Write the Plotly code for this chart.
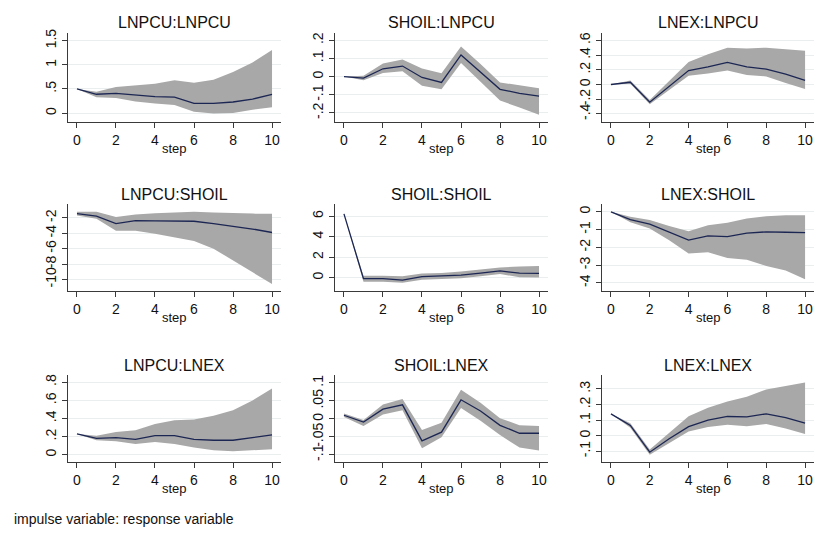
import plotly.graph_objects as go

steps = list(range(11))

panel_titles = ["LNPCU:LNPCU", "SHOIL:LNPCU", "LNEX:LNPCU",
                "LNPCU:SHOIL", "SHOIL:SHOIL", "LNEX:SHOIL",
                "LNPCU:LNEX", "SHOIL:LNEX", "LNEX:LNEX"]

# --- impulse responses (irf), lower and upper 95% bounds ---
lnpcu_lnpcu_irf = [0.50, 0.39, 0.41, 0.37, 0.34, 0.33, 0.20, 0.20, 0.23, 0.29, 0.39]
lnpcu_lnpcu_lo  = [0.50, 0.33, 0.31, 0.24, 0.20, 0.17, 0.03, -0.01, 0.00, 0.07, 0.12]
lnpcu_lnpcu_hi  = [0.50, 0.44, 0.54, 0.58, 0.61, 0.68, 0.63, 0.69, 0.85, 1.05, 1.31]

shoil_lnpcu_irf = [0.0, -0.008, 0.043, 0.058, -0.005, -0.032, 0.119, 0.025, -0.070, -0.092, -0.107]
shoil_lnpcu_lo  = [0.0, -0.020, 0.020, 0.030, -0.051, -0.070, 0.075, -0.030, -0.132, -0.170, -0.210]
shoil_lnpcu_hi  = [0.0, 0.005, 0.072, 0.094, 0.045, 0.019, 0.166, 0.070, -0.032, -0.050, -0.064]

lnex_lnpcu_irf = [0.0, 0.03, -0.24, -0.02, 0.19, 0.24, 0.30, 0.24, 0.21, 0.14, 0.055]
lnex_lnpcu_lo  = [0.0, 0.01, -0.27, -0.08, 0.12, 0.15, 0.19, 0.13, 0.11, 0.02, -0.06]
lnex_lnpcu_hi  = [0.0, 0.055, -0.21, 0.05, 0.305, 0.41, 0.50, 0.49, 0.50, 0.48, 0.46]

lnpcu_shoil_irf = [-1.45, -1.78, -2.74, -2.35, -2.38, -2.40, -2.44, -2.75, -3.10, -3.45, -3.90]
lnpcu_shoil_lo  = [-1.70, -2.10, -3.66, -3.66, -4.05, -4.55, -5.00, -6.00, -7.50, -9.00, -10.6]
lnpcu_shoil_hi  = [-1.20, -1.20, -1.90, -1.56, -1.40, -1.30, -1.20, -1.30, -1.40, -1.45, -1.48]

shoil_shoil_irf = [6.23, -0.10, -0.10, -0.23, 0.10, 0.15, 0.25, 0.45, 0.66, 0.45, 0.43]
shoil_shoil_lo  = [6.23, -0.40, -0.40, -0.50, -0.20, -0.10, -0.05, 0.15, 0.35, 0.05, 0.02]
shoil_shoil_hi  = [6.23, 0.20, 0.20, 0.15, 0.40, 0.45, 0.60, 0.80, 1.00, 1.10, 1.15]

lnex_shoil_irf = [0.0, -0.44, -0.70, -1.15, -1.59, -1.35, -1.40, -1.20, -1.13, -1.15, -1.17]
lnex_shoil_lo  = [0.0, -0.59, -0.94, -1.60, -2.35, -2.28, -2.60, -2.70, -3.05, -3.30, -3.80]
lnex_shoil_hi  = [0.0, -0.28, -0.46, -0.80, -1.09, -0.76, -0.61, -0.37, -0.25, -0.20, -0.20]

lnpcu_lnex_irf = [0.23, 0.18, 0.19, 0.17, 0.21, 0.21, 0.17, 0.16, 0.16, 0.19, 0.22]
lnpcu_lnex_lo  = [0.23, 0.16, 0.15, 0.12, 0.14, 0.12, 0.08, 0.05, 0.04, 0.05, 0.06]
lnpcu_lnex_hi  = [0.23, 0.21, 0.25, 0.27, 0.34, 0.38, 0.39, 0.43, 0.49, 0.60, 0.73]

shoil_lnex_irf = [0.010, -0.009, 0.027, 0.039, -0.061, -0.037, 0.053, 0.022, -0.018, -0.040, -0.040]
shoil_lnex_lo  = [0.005, -0.020, 0.012, 0.024, -0.082, -0.051, 0.030, -0.005, -0.045, -0.080, -0.088]
shoil_lnex_hi  = [0.015, -0.003, 0.040, 0.055, -0.031, -0.011, 0.081, 0.045, 0.002, -0.018, -0.020]

lnex_lnex_irf = [0.14, 0.065, -0.107, -0.02, 0.058, 0.10, 0.123, 0.12, 0.14, 0.115, 0.08]
lnex_lnex_lo  = [0.14, 0.050, -0.123, -0.05, 0.026, 0.055, 0.069, 0.06, 0.075, 0.045, 0.01]
lnex_lnex_hi  = [0.14, 0.080, -0.090, 0.02, 0.125, 0.18, 0.220, 0.25, 0.297, 0.32, 0.342]

# --- y tick values / labels per panel ---
yt1 = [0, 0.5, 1, 1.5];            yl1 = ["0", ".5", "1", "1.5"]
yt2 = [-0.2, -0.1, 0, 0.1, 0.2];   yl2 = ["-.2", "-.1", "0", ".1", ".2"]
yt3 = [-0.4, -0.2, 0, 0.2, 0.4, 0.6]; yl3 = ["-.4", "-.2", "0", ".2", ".4", ".6"]
yt4 = [-10, -8, -6, -4, -2];       yl4 = ["-10", "-8", "-6", "-4", "-2"]
yt5 = [0, 2, 4, 6];                yl5 = ["0", "2", "4", "6"]
yt6 = [-4, -3, -2, -1, 0];         yl6 = ["-4", "-3", "-2", "-1", "0"]
yt7 = [0, 0.2, 0.4, 0.6, 0.8];     yl7 = ["0", ".2", ".4", ".6", ".8"]
yt8 = [-0.1, -0.05, 0, 0.05, 0.1]; yl8 = ["-.1", "-.05", "0", ".05", ".1"]
yt9 = [-0.1, 0, 0.1, 0.2, 0.3];    yl9 = ["-.1", "0", ".1", ".2", ".3"]

xticks = [0, 2, 4, 6, 8, 10]

panels = [
    (lnpcu_lnpcu_irf, lnpcu_lnpcu_lo, lnpcu_lnpcu_hi, yt1, yl1, [-0.185, 1.66]),
    (shoil_lnpcu_irf, shoil_lnpcu_lo, shoil_lnpcu_hi, yt2, yl2, [-0.25, 0.24]),
    (lnex_lnpcu_irf, lnex_lnpcu_lo, lnex_lnpcu_hi, yt3, yl3, [-0.51, 0.70]),
    (lnpcu_shoil_irf, lnpcu_shoil_lo, lnpcu_shoil_hi, yt4, yl4, [-11.5, -0.2]),
    (shoil_shoil_irf, shoil_shoil_lo, shoil_shoil_hi, yt5, yl5, [-1.3, 7.2]),
    (lnex_shoil_irf, lnex_shoil_lo, lnex_shoil_hi, yt6, yl6, [-4.46, 0.44]),
    (lnpcu_lnex_irf, lnpcu_lnex_lo, lnpcu_lnex_hi, yt7, yl7, [-0.08, 0.88]),
    (shoil_lnex_irf, shoil_lnex_lo, shoil_lnex_hi, yt8, yl8, [-0.12, 0.122]),
    (lnex_lnex_irf, lnex_lnex_lo, lnex_lnex_hi, yt9, yl9, [-0.17, 0.39]),
]

W, H = 817, 533
col_px = [(68, 281), (335, 548), (602, 814)]
row_px = [(33, 122), (204, 291), (375, 462)]

FONT = "Liberation Sans, Arial, sans-serif"
BAND = "#a8a8a8"
LINE = "#1c2653"
AXC = "#3a3a3a"

fig = go.Figure()
annotations = []
layout_axes = {}

for i, (irf, lo, hi, yt, yl, yr) in enumerate(panels):
    r, c = divmod(i, 3)
    n = "" if i == 0 else str(i + 1)
    xa, ya = "x" + n, "y" + n
    x0, x1 = col_px[c]
    t0, t1 = row_px[r]

    fig.add_trace(go.Scatter(x=steps, y=hi, mode="lines", line=dict(width=0, color=BAND),
                             xaxis=xa, yaxis=ya, showlegend=False, hoverinfo="skip"))
    fig.add_trace(go.Scatter(x=steps, y=lo, mode="lines", line=dict(width=0, color=BAND),
                             fill="tonexty", fillcolor=BAND,
                             xaxis=xa, yaxis=ya, showlegend=False, hoverinfo="skip"))
    fig.add_trace(go.Scatter(x=steps, y=irf, mode="lines", line=dict(width=1.3, color=LINE),
                             xaxis=xa, yaxis=ya, showlegend=False))

    layout_axes["xaxis" + n] = dict(
        domain=[x0 / W, x1 / W], anchor=ya, range=[-0.46, 10.46], automargin=False,
        tickvals=xticks, ticktext=[str(v) for v in xticks],
        ticks="outside", ticklen=5, tickcolor=AXC, showline=True, linecolor=AXC,
        linewidth=1, showgrid=False, zeroline=False,
        tickfont=dict(family=FONT, size=14, color="#111111"),
    )
    layout_axes["yaxis" + n] = dict(
        domain=[1 - t1 / H, 1 - t0 / H], anchor=xa, range=yr, automargin=False,
        tickvals=yt, ticktext=yl, tickangle=-90,
        ticks="outside", ticklen=5, tickcolor=AXC, showline=True, linecolor=AXC,
        linewidth=1, showgrid=True, gridcolor="#eaeeef", gridwidth=1, zeroline=False,
        tickfont=dict(family=FONT, size=14, color="#111111"),
    )
    cx = (x0 + x1) / 2 / W
    annotations.append(dict(text=panel_titles[i], x=cx, y=1 - (t0 - 10) / H,
                            xref="paper", yref="paper", showarrow=False,
                            xanchor="center", yanchor="middle",
                            font=dict(family=FONT, size=16, color="#111111")))
    annotations.append(dict(text="step", x=cx, y=1 - (t1 + 26) / H,
                            xref="paper", yref="paper", showarrow=False,
                            xanchor="center", yanchor="middle",
                            font=dict(family=FONT, size=13, color="#111111")))

annotations.append(dict(text="impulse variable: response variable", x=12 / W, y=1 - 519 / H,
                        xref="paper", yref="paper", showarrow=False,
                        xanchor="left", yanchor="middle",
                        font=dict(family=FONT, size=14, color="#111111")))

fig.update_layout(width=W, height=H, margin=dict(l=0, r=0, t=0, b=0),
                  paper_bgcolor="white", plot_bgcolor="white",
                  annotations=annotations, **layout_axes)

fig.write_html("out.html", config={"displayModeBar": False},
               post_script="document.body.style.margin='0px';document.body.style.overflow='hidden';")
